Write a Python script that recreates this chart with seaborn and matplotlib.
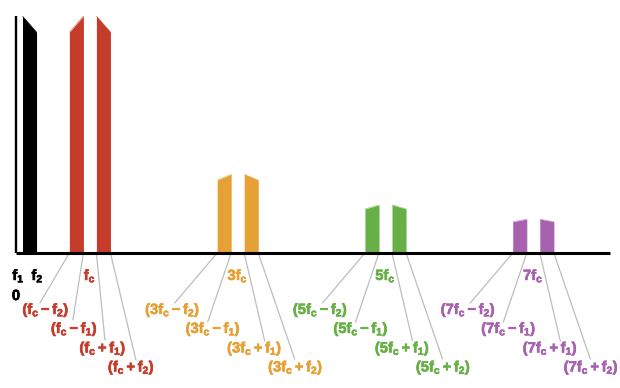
import matplotlib
matplotlib.use("Agg")
import matplotlib.pyplot as plt
import matplotlib.transforms as mtransforms
import matplotlib.patheffects as pe
import seaborn as sns

# ---------------- data ----------------
fc = 1.0
f1 = 0.088
f2 = 0.278
harmonics = [1, 3, 5, 7]
peak_amp = [1.0, 0.333, 0.203, 0.143]     # amplitude at the inner edge (f1 side)
edge_amp = [0.932, 0.308, 0.186, 0.132]   # amplitude at the outer edge (f2 side)
base_peak, base_edge = 1.0, 0.932
colors = ["#C63C2A", "#E5A135", "#67B046", "#A662AE"]
center_labels = [r"$f_c$", r"$3f_c$", r"$5f_c$", r"$7f_c$"]
side_labels = [
    [r"$(f_c - f_2)$", r"$(f_c - f_1)$", r"$(f_c + f_1)$", r"$(f_c + f_2)$"],
    [r"$(3f_c - f_2)$", r"$(3f_c - f_1)$", r"$(3f_c + f_1)$", r"$(3f_c + f_2)$"],
    [r"$(5f_c - f_2)$", r"$(5f_c - f_1)$", r"$(5f_c + f_1)$", r"$(5f_c + f_2)$"],
    [r"$(7f_c - f_2)$", r"$(7f_c - f_1)$", r"$(7f_c + f_1)$", r"$(7f_c + f_2)$"],
]

# ---------------- style ----------------
sns.set_style("white")
plt.rcParams["font.family"] = ["Liberation Sans", "DejaVu Sans"]
plt.rcParams["font.weight"] = "bold"
plt.rcParams["mathtext.fontset"] = "custom"
plt.rcParams["mathtext.rm"] = "Liberation Sans:bold"
plt.rcParams["mathtext.it"] = "Liberation Sans:bold"
plt.rcParams["mathtext.bf"] = "Liberation Sans:bold"
plt.rcParams["mathtext.sf"] = "Liberation Sans:bold"

W, H = 620, 388
fig = plt.figure(figsize=(W / 100, H / 100), dpi=100)
x0_px, x1_px, ybase_px, ytop_px = 16, 610, 253, 16
ax = fig.add_axes([x0_px / W, (H - ybase_px) / H, (x1_px - x0_px) / W, (ybase_px - ytop_px) / H])
px_per_unit = 73.9
ax.set_xlim(0, (x1_px - x0_px) / px_per_unit)
ax.set_ylim(0, 1)
ax.axis("off")

FS = 10.6
GRAY = "#BDBDBD"

def off(dx, dy):
    return mtransforms.offset_copy(ax.transData, fig=fig, x=dx, y=dy, units="dots")

def label(x, s, dx, dy, col):
    ax.text(x, 0, s, transform=off(dx, dy), ha="center", va="baseline",
            color=col, fontsize=FS, fontweight="bold",
            path_effects=[pe.withStroke(linewidth=0.45, foreground=col)])

def band(lo, hi, a_lo, a_hi, color):
    sns.lineplot(x=[lo, hi], y=[a_lo, a_hi], color=color, lw=0.3, ax=ax)
    ax.fill_between([lo, hi], [0, 0], [a_lo, a_hi], color=color, lw=0, zorder=2)

# baseband
band(f1, f2, base_peak, base_edge, "black")

# layout (pixel offsets from each harmonic centre)
line_end_red = [(-50, -50), (-17, -67), (15, -87), (46, -107)]
line_end_oth = [(-63, -50), (-30, -69), (27, -88), (57, -106)]
lab_dx_red = [-44, -15.5, 13, 41.5]
lab_dx_oth = [-65, -24.5, 17, 58]
lab_dy = [-61, -80, -99.5, -118.5]

for i, n in enumerate(harmonics):
    c = n * fc
    col = colors[i]
    band(c - f2, c - f1, edge_amp[i], peak_amp[i], col)
    band(c + f1, c + f2, peak_amp[i], edge_amp[i], col)
    label(c, center_labels[i], 0, -27, col)
    edges = [c - f2, c - f1, c + f1, c + f2]
    ends = line_end_red if i == 0 else line_end_oth
    ldx = lab_dx_red if i == 0 else lab_dx_oth
    for k in range(4):
        ax.annotate("", xy=(edges[k], 0), xycoords="data",
                    xytext=(c, 0), textcoords=off(*ends[k]),
                    arrowprops=dict(arrowstyle="-", color=GRAY, lw=0.9,
                                    shrinkA=0, shrinkB=0),
                    annotation_clip=False)
        label(c, side_labels[i][k], ldx[k], lab_dy[k], col)

# axes lines
ax.plot([0, 0], [0, 1], color="black", lw=1.7, solid_capstyle="butt", zorder=4, clip_on=False)
ax.plot([0, (x1_px - x0_px) / px_per_unit], [0, 0], color="black", lw=2.2,
        solid_capstyle="butt", zorder=4, clip_on=False)

# baseband labels
label(f1, r"$f_1$", -4, -27, "black")
label(f2, r"$f_2$", 1, -27, "black")
label(0, "0", 0, -47, "black")

fig.savefig("out.png", dpi=100)
